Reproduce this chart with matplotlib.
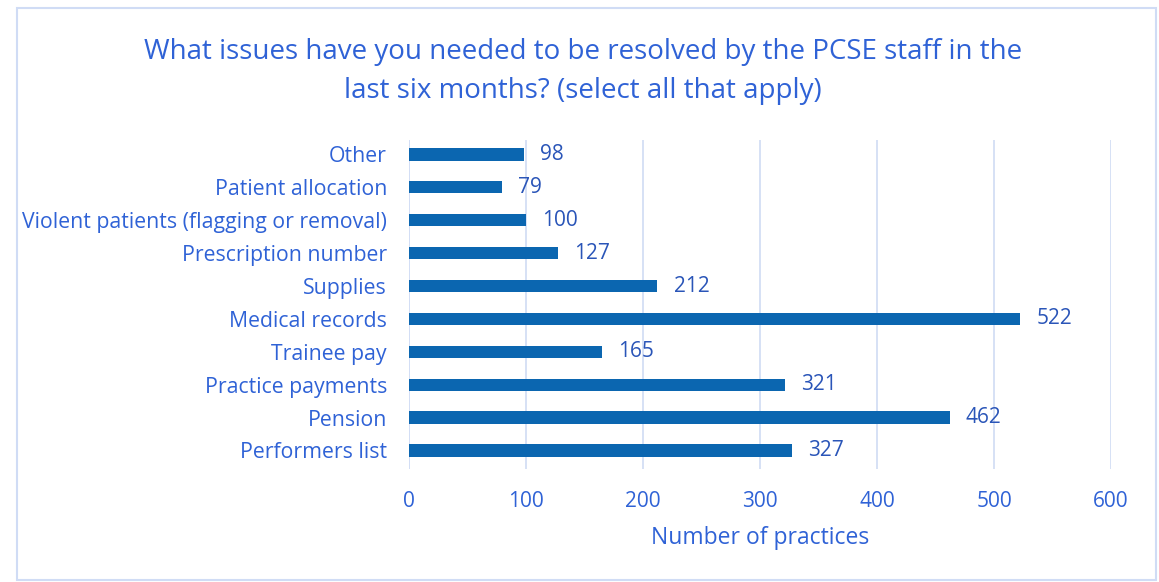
import matplotlib.pyplot as plt
from matplotlib.patches import Rectangle

# Data (bottom to top)
categories = ["Performers list", "Pension", "Practice payments", "Trainee pay",
              "Medical records", "Supplies", "Prescription number",
              "Violent patients (flagging or removal)", "Patient allocation", "Other"]
values = [327, 462, 321, 165, 522, 212, 127, 100, 79, 98]
xticks = [0, 100, 200, 300, 400, 500, 600]

text_col = "#2f62d6"
label_col = "#2a55b8"
bar_col = "#0b66b0"
grid_col = "#d3def5"

plt.rcParams["font.family"] = ["Open Sans", "DejaVu Sans"]

fig = plt.figure(figsize=(11.59, 5.82), dpi=100)
ax = fig.add_axes([0.353, 0.195, 0.6056, 0.565])

y = range(len(categories))
ax.barh(y, values, height=0.37, color=bar_col)
for i, v in enumerate(values):
    ax.text(v + 14, i, str(v), va="center", ha="left", fontsize=15, color=label_col)

ax.set_xlim(0, 600)
ax.set_ylim(-0.55, len(categories) - 0.55)
ax.set_xticks(xticks)
ax.set_yticks(list(y))
ax.set_yticklabels(categories)
ax.tick_params(axis="both", length=0, labelsize=15, colors=text_col)
ax.tick_params(axis="x", pad=16)
ax.tick_params(axis="y", pad=16)
ax.tick_params(axis="y", labelsize=15.3)
ax.grid(axis="x", color=grid_col, linewidth=1.3)
ax.set_axisbelow(True)
for s in ax.spines.values():
    s.set_visible(False)
ax.axvline(0, color=grid_col, linewidth=1.3, zorder=0)

ax.set_xlabel("Number of practices", fontsize=16.5, color=text_col, labelpad=10)

fig.text(0.503, 0.877, "What issues have you needed to be resolved by the PCSE staff in the\nlast six months? (select all that apply)",
         ha="center", va="center", fontsize=20, color=text_col, linespacing=1.5)

fig.patches.append(Rectangle((0.015, 0.004), 0.982, 0.982, transform=fig.transFigure,
                             fill=False, edgecolor="#d0dcf5", linewidth=1.5))

fig.savefig("out.png", dpi=100)
